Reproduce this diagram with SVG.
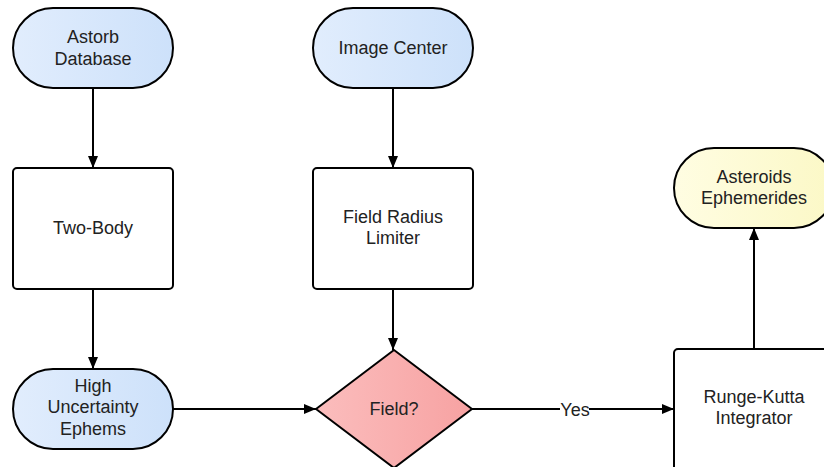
<svg xmlns="http://www.w3.org/2000/svg" width="824" height="467" viewBox="0 0 824 467">
<defs>
<linearGradient id="gBlue" x1="0" y1="0" x2="1" y2="0"><stop offset="0" stop-color="#e1edfd"/><stop offset="1" stop-color="#cde1fa"/></linearGradient>
<linearGradient id="gYellow" x1="0" y1="0" x2="1" y2="0"><stop offset="0" stop-color="#fffde2"/><stop offset="1" stop-color="#fbf8c6"/></linearGradient>
<linearGradient id="gRed" x1="0" y1="0" x2="1" y2="0"><stop offset="0" stop-color="#fbbdbd"/><stop offset="1" stop-color="#f7a2a2"/></linearGradient>
<marker id="arr" viewBox="0 0 12 10" refX="12" refY="5" markerWidth="12" markerHeight="10" markerUnits="userSpaceOnUse" orient="auto"><path d="M0,0 L12,5 L0,10 Z" fill="#000"/></marker>
</defs>
<style>
.shape{stroke:#000;stroke-width:2}
.t{font-family:"Liberation Sans",Arial,sans-serif;font-size:18px;fill:#222;text-anchor:middle;dominant-baseline:central}
.c{stroke:#000;stroke-width:2;fill:none}
</style>
<rect width="824" height="467" fill="#fff"/>
<g id="connectors">
<line class="c" x1="93" y1="88" x2="93" y2="168" marker-end="url(#arr)"/>
<line class="c" x1="393" y1="88" x2="393" y2="168" marker-end="url(#arr)"/>
<line class="c" x1="93" y1="289" x2="93" y2="369" marker-end="url(#arr)"/>
<line class="c" x1="393" y1="289" x2="393" y2="350" marker-end="url(#arr)"/>
<line class="c" x1="173" y1="409" x2="316" y2="409" marker-end="url(#arr)"/>
<line class="c" x1="472" y1="409" x2="560" y2="409"/>
<line class="c" x1="589" y1="409" x2="674" y2="409" marker-end="url(#arr)"/>
<text class="t" x="575" y="410">Yes</text>
<line class="c" x1="754" y1="349" x2="754" y2="228" marker-end="url(#arr)"/>
</g>
<g id="astorb">
<rect class="shape" x="13" y="8" width="160" height="80" rx="40" fill="url(#gBlue)"/>
<text class="t" x="93" y="37">Astorb</text>
<text class="t" x="93" y="59">Database</text>
</g>
<g id="imagecenter">
<rect class="shape" x="313" y="8" width="160" height="80" rx="40" fill="url(#gBlue)"/>
<text class="t" x="393" y="48">Image Center</text>
</g>
<g id="twobody">
<rect class="shape" x="13" y="168" width="160" height="121" rx="4" fill="#fff"/>
<text class="t" x="93" y="228">Two-Body</text>
</g>
<g id="fieldradius">
<rect class="shape" x="313" y="168" width="160" height="121" rx="4" fill="#fff"/>
<text class="t" x="393" y="217">Field Radius</text>
<text class="t" x="393" y="238">Limiter</text>
</g>
<g id="highunc">
<rect class="shape" x="13" y="369" width="160" height="80" rx="40" fill="url(#gBlue)"/>
<text class="t" x="93" y="386">High</text>
<text class="t" x="93" y="407">Uncertainty</text>
<text class="t" x="93" y="429">Ephems</text>
</g>
<g id="field">
<path class="shape" d="M394,350 L472,409 L394,468 L316,409 Z" stroke-linejoin="round" fill="url(#gRed)"/>
<text class="t" x="394" y="409">Field?</text>
</g>
<g id="rungekutta">
<rect class="shape" x="674" y="349" width="160" height="125" rx="4" fill="#fff"/>
<text class="t" x="754" y="397">Runge-Kutta</text>
<text class="t" x="754" y="418">Integrator</text>
</g>
<g id="asteroids">
<rect class="shape" x="674" y="148" width="160" height="80" rx="40" fill="url(#gYellow)"/>
<text class="t" x="754" y="177">Asteroids</text>
<text class="t" x="754" y="198">Ephemerides</text>
</g>
</svg>
